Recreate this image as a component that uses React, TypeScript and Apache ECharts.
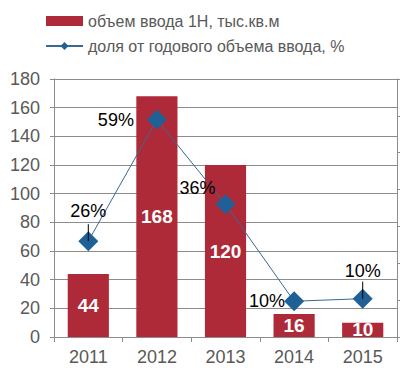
import React, { useEffect, useRef } from "react";
import * as echarts from "echarts";

const years = ["2011", "2012", "2013", "2014", "2015"];
const volume = [44, 168, 120, 16, 10];
const share = [26, 59, 36, 9.7, 10.4];
const volumeName = "объем ввода 1Н, тыс.кв.м";
const shareName = "доля от годового объема ввода, %";
// points whose percentage label has a short leader line
const leaderIndexes = [0, 4];

const FONT = "'Liberation Sans', Arial, sans-serif";
const GREY = "#595959";
const AXIS = "#8c8c8c";

export default function App() {
  const ref = useRef<HTMLDivElement>(null);
  useEffect(() => {
    if (!ref.current) return;
    const chart = echarts.init(ref.current, null, { renderer: "svg" });
    const labelCfg: any[] = [
      { position: "top", offset: [0, -6] },
      { position: "left", distance: 13, offset: [0, 0] },
      { position: "left", distance: 5, offset: [5, -16] },
      { position: "left", distance: 0, offset: [1, 0] },
      { position: "top", offset: [0, -4] },
    ];
    const shareData = share.map((v, i) => ({
      value: v,
      label: {
        position: labelCfg[i].position,
        distance: labelCfg[i].distance ?? 5,
        offset: labelCfg[i].offset,
      },
    }));
    chart.setOption({
      animation: false,
      textStyle: { fontFamily: FONT },
      legend: {
        orient: "vertical",
        left: 40,
        top: 8,
        itemWidth: 37,
        itemHeight: 10,
        itemGap: 9,
        textStyle: { fontFamily: FONT, fontSize: 16, color: GREY },
        data: [{ name: volumeName, icon: "rect" }, { name: shareName }],
      },
      grid: { left: 54, right: 11, top: 79, bottom: 39 },
      xAxis: {
        type: "category",
        data: years,
        axisLine: { lineStyle: { color: AXIS } },
        axisTick: { show: true, length: 5, lineStyle: { color: AXIS } },
        axisLabel: { color: GREY, fontSize: 18, fontFamily: FONT, margin: 11 },
      },
      yAxis: [
        {
          type: "value",
          min: 0,
          max: 180,
          interval: 20,
          axisLine: { show: true, lineStyle: { color: AXIS } },
          axisTick: { show: true, length: 4, lineStyle: { color: AXIS } },
          axisLabel: { color: GREY, fontSize: 18, fontFamily: FONT, margin: 14 },
          splitLine: { lineStyle: { color: AXIS } },
        },
        {
          type: "value",
          min: 0,
          max: 70,
          interval: 10,
          position: "right",
          axisLine: { show: true, lineStyle: { color: AXIS } },
          axisTick: { show: true, length: 5, lineStyle: { color: AXIS } },
          axisLabel: { show: false },
          splitLine: { show: false },
        },
      ],
      series: [
        {
          name: volumeName,
          type: "bar",
          data: volume,
          barWidth: "60%",
          itemStyle: { color: "#AF2A38" },
          label: {
            show: true,
            position: "inside",
            color: "#fff",
            fontWeight: "bold",
            fontSize: 19,
            fontFamily: FONT,
          },
        },
        {
          name: shareName,
          type: "line",
          yAxisIndex: 1,
          data: shareData,
          symbol: "diamond",
          symbolSize: 20,
          lineStyle: { color: "#3A6894", width: 1 },
          itemStyle: { color: "#1F6196" },
          label: {
            show: true,
            color: "#000",
            fontSize: 18,
            fontFamily: FONT,
            formatter: (p: any) => Math.round(p.value) + "%",
          },
        },
        {
          type: "custom",
          yAxisIndex: 1,
          z: 5,
          silent: true,
          data: leaderIndexes.map((i) => [i, share[i]]),
          renderItem: (params: any, api: any) => {
            const p = api.coord([api.value(0), api.value(1)]);
            return {
              type: "line",
              shape: { x1: p[0], y1: p[1], x2: p[0], y2: p[1] - 17 },
              style: { stroke: "#000", lineWidth: 1 },
            };
          },
        },
      ],
    });
    return () => chart.dispose();
  }, []);
  return <div ref={ref} style={{ width: 408, height: 376, marginLeft: -8, marginTop: -8 }} />;
}
